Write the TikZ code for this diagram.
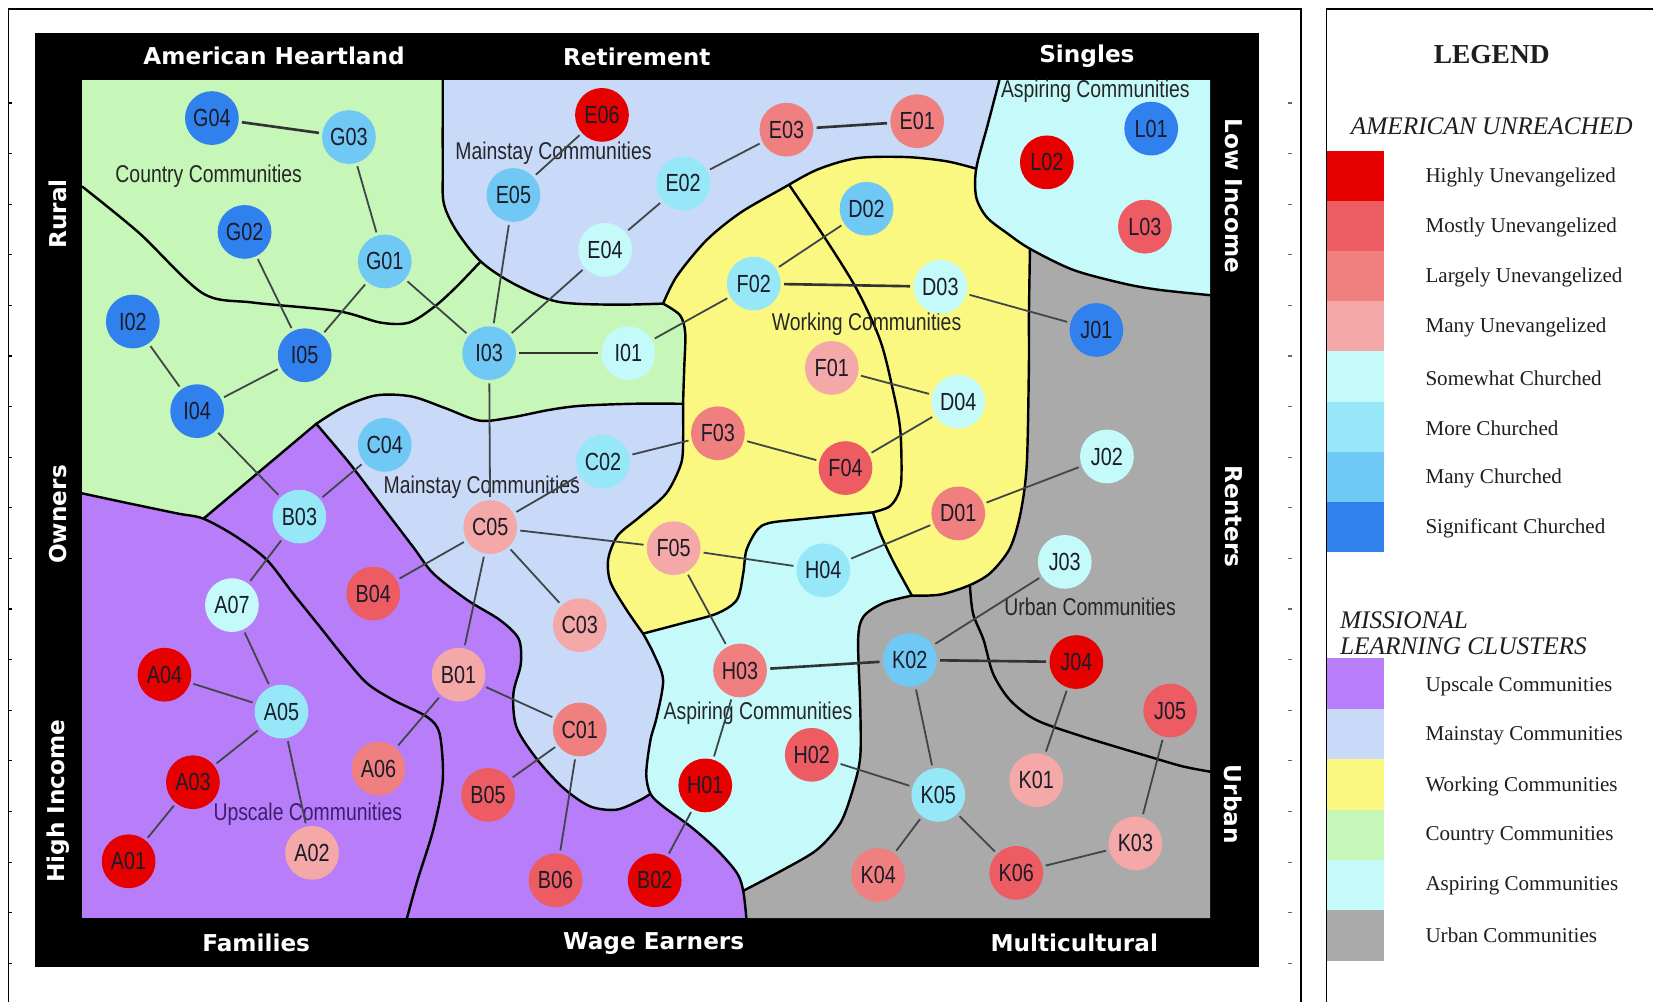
\documentclass[tikz,border=0pt]{standalone}
\usepackage{fontspec}
\setmainfont{Liberation Serif}
\newfontfamily\condfont[FakeStretch=0.8]{Liberation Sans}
\newfontfamily\axisfont{DejaVu Sans}
\definecolor{hu}{RGB}{230,0,0}
\definecolor{mu}{RGB}{236,92,98}
\definecolor{lu}{RGB}{240,128,128}
\definecolor{mnu}{RGB}{244,168,168}
\definecolor{sc}{RGB}{196,250,250}
\definecolor{mc}{RGB}{150,232,248}
\definecolor{myc}{RGB}{112,200,245}
\definecolor{sig}{RGB}{48,128,238}
\definecolor{cUp}{RGB}{184,125,248}
\definecolor{cMain}{RGB}{200,218,248}
\definecolor{cWork}{RGB}{250,248,128}
\definecolor{cCountry}{RGB}{198,246,184}
\definecolor{cAsp}{RGB}{198,250,250}
\definecolor{cUrb}{RGB}{170,170,170}
\definecolor{edgecol}{RGB}{62,70,72}
\definecolor{nodetext}{RGB}{28,28,40}
\definecolor{legtext}{RGB}{30,30,30}
\begin{document}
\begin{tikzpicture}[x=1pt,y=-1pt,
  nd/.style={circle, minimum size=51pt, inner sep=0pt, text=nodetext, font=\condfont\fontsize{23.5}{23.5}\selectfont},
  edge/.style={draw=edgecol, line width=1.7pt, shorten >=3pt, shorten <=3pt},
  thickedge/.style={draw=black!80, line width=2.5pt, shorten >=3pt, shorten <=3pt},
  bnd/.style={draw=black, line width=2.3pt, line join=round, line cap=round},
  axis/.style={text=white, inner sep=0pt, font=\axisfont\bfseries\fontsize{22}{22}\selectfont},
  rlab/.style={inner sep=0pt, text=black!85, font=\condfont\fontsize{23}{23}\selectfont},
  legtxt/.style={anchor=west, inner sep=0pt, text=legtext, font=\fontsize{20}{20}\selectfont},
  leghead/.style={inner sep=0pt, text=legtext, font=\itshape\fontsize{24}{26}\selectfont}]
\useasboundingbox (0,0) rectangle (1568,950);
\fill[white] (0,0) rectangle (1568,950);
% outer frames
\draw[line width=1.3pt] (8,950) -- (8,8.5) -- (1234,8.5) -- (1234,950);
\draw[line width=1.3pt] (1258,950) -- (1258,8.5) -- (1568,8.5);
\foreach \k in {0,...,17} {
  \draw[line width=1pt] (8,{97.7+48*\k}) -- (11.5,{97.7+48*\k});
  \draw[line width=1pt, black!60] (1222,{97.7+48*\k}) -- (1226,{97.7+48*\k});
}
% black panel
\fill[black] (33,31) rectangle (1194,917);
% base purple
\fill[cUp] (78,76) rectangle (1148,871);
% green
\fill[cCountry] (78,76) -- (420,76)
  -- plot[smooth] coordinates {(420,76) (420,160) (421,193) (433,219) (456,248) (487,269) (528,286) (580,289) (629,288)}
  -- plot[smooth] coordinates {(629,288) (645,299) (650,316) (649,350) (648,383)}
  -- plot[smooth] coordinates {(648,383) (600,383) (550,385) (520,389) (485,396) (455,399) (422,387) (390,376) (357,375) (326,386) (300,402)}
  -- (193,492)
  -- plot[smooth] coordinates {(193,492) (168,487) (120,477) (78,468)} -- cycle;
% mainstay top
\fill[cMain] (420,76) -- (948,76)
  -- plot[smooth] coordinates {(948,76) (937,118) (926,160)}
  -- plot[smooth] coordinates {(926,160) (898,153) (860,149) (813,150) (775,161) (740,180) (702,202) (670,228) (642,262) (629,288)}
  -- plot[smooth] coordinates {(629,288) (580,289) (528,286) (487,269) (456,248) (433,219) (421,193) (420,160) (420,76)} -- cycle;
% aspiring top
\fill[cAsp] (948,76) -- (1148,76) -- (1148,280)
  -- plot[smooth] coordinates {(1148,280) (1100,275) (1066,269) (1018,256) (977,236) (955,221) (936,206) (926,187) (926,160) (937,118) (948,76)} -- cycle;
% working
\fill[cWork] plot[smooth] coordinates {(629,288) (642,262) (670,228) (702,202) (740,180) (775,161) (813,150) (860,149) (898,153) (926,160)}
  -- plot[smooth] coordinates {(926,160) (926,187) (936,206) (955,221) (977,236)}
  -- plot[smooth] coordinates {(977,236) (976,300) (976,345) (974,440) (968,487) (958,520) (940,543) (920,555) (892,564) (865,565)}
  -- plot[smooth] coordinates {(865,565) (847,532) (835,506) (828,486)}
  -- plot[smooth] coordinates {(828,486) (765,492) (730,496) (718,503) (708,522) (705,544) (699,569) (680,582) (648,591) (610,601)}
  -- plot[smooth] coordinates {(610,601) (594,578) (579,552) (577,530) (586,508) (606,491) (632,468) (646,440) (648,417) (648,383) (649,350) (650,316) (645,299) (629,288)} -- cycle;
% urban
\fill[cUrb] plot[smooth] coordinates {(977,236) (1018,256) (1066,269) (1100,275) (1148,280)}
  -- (1148,871) -- (708,871) -- (705,845)
  -- plot[smooth] coordinates {(705,845) (743,825) (775,806) (797,781) (809,749) (816,718) (816,670) (814,607) (819,585) (838,572) (865,565)}
  -- plot[smooth] coordinates {(865,565) (892,564) (920,555) (940,543) (958,520) (968,487) (974,440) (976,345) (976,300) (977,236)} -- cycle;
% aspiring lower
\fill[cAsp] plot[smooth] coordinates {(610,601) (648,591) (680,582) (699,569) (705,544) (708,522) (718,503) (730,496) (765,492) (828,486)}
  -- plot[smooth] coordinates {(828,486) (835,506) (847,532) (865,565)}
  -- plot[smooth] coordinates {(865,565) (838,572) (819,585) (814,607) (816,670) (816,718) (809,749) (797,781) (775,806) (743,825) (705,845)}
  -- plot[smooth] coordinates {(705,845) (699,828) (680,806) (655,784) (629,765) (617,753) (613,734) (617,702) (623,680) (629,645) (620,620) (610,601)} -- cycle;
% mainstay lower
\fill[cMain] plot[smooth] coordinates {(300,402) (326,386) (357,375) (390,376) (422,387) (455,399) (485,396) (520,389) (550,385) (600,383) (648,383)}
  -- plot[smooth] coordinates {(648,383) (648,417) (646,440) (632,468) (606,491) (586,508) (577,530) (579,552) (594,578) (610,601)}
  -- plot[smooth] coordinates {(610,601) (620,620) (629,645) (623,680) (617,702) (613,734) (617,753)}
  -- plot[smooth] coordinates {(617,753) (607,759) (585,768) (560,765) (535,748) (510,721) (490,690) (487,658) (494,630) (492,606) (474,588) (443,569) (411,544) (392,519) (360,477) (332,440) (300,402)} -- cycle;
% boundary lines
\draw[bnd] plot[smooth] coordinates {(420,76) (420,160) (421,193) (433,219) (456,248) (487,269) (528,286) (580,289) (629,288)};
\draw[bnd] plot[smooth] coordinates {(78,177) (132,221) (192,278) (240,287) (320,295) (361,306) (388,306) (412,291) (433,272) (456,248)};
\draw[bnd] plot[smooth] coordinates {(629,288) (642,262) (670,228) (702,202) (740,180) (775,161) (813,150) (860,149) (898,153) (926,160)};
\draw[bnd] plot[smooth] coordinates {(948,76) (937,118) (926,160) (926,187) (936,206) (955,221) (977,236) (1018,256) (1066,269) (1100,275) (1148,280)};
\draw[bnd] plot[smooth] coordinates {(977,236) (976,300) (976,345) (974,440) (968,487) (958,520) (940,543) (920,555) (892,564) (865,565)};
\draw[bnd] plot[smooth] coordinates {(629,288) (645,299) (650,316) (649,350) (648,383) (648,417) (646,440) (632,468) (606,491) (586,508) (577,530) (579,552) (594,578) (610,601)};
\draw[bnd] plot[smooth] coordinates {(300,402) (326,386) (357,375) (390,376) (422,387) (455,399) (485,396) (520,389) (550,385) (600,383) (648,383)};
\draw[bnd] (300,402) -- (193,492);
\draw[bnd] plot[smooth] coordinates {(78,468) (120,477) (168,487) (193,492) (224,509) (253,531) (278,563) (303,594) (326,623) (348,648) (373,664) (405,680) (417,696) (420,740) (411,787) (396,835) (386,871)};
\draw[bnd] plot[smooth] coordinates {(300,402) (332,440) (360,477) (392,519) (411,544) (443,569) (474,588) (492,606) (494,630) (487,658) (490,690) (510,721) (535,748) (560,765) (585,768) (607,759) (617,753)};
\draw[bnd] plot[smooth] coordinates {(610,601) (648,591) (680,582) (699,569) (705,544) (708,522) (718,503) (730,496) (765,492) (828,486)};
\draw[bnd] plot[smooth] coordinates {(749,176) (784,228) (813,275) (835,323) (847,370) (854,408) (855,455) (851,471) (843,481) (828,486)};
\draw[bnd] plot[smooth] coordinates {(828,486) (835,506) (847,532) (865,565)};
\draw[bnd] plot[smooth] coordinates {(610,601) (620,620) (629,645) (623,680) (617,702) (613,734) (617,753) (629,765) (655,784) (680,806) (699,828) (705,845) (708,871)};
\draw[bnd] plot[smooth] coordinates {(865,565) (838,572) (819,585) (814,607) (816,670) (816,718) (809,749) (797,781) (775,806) (743,825) (705,845)};
\draw[bnd] plot[smooth] coordinates {(920,555) (923,582) (933,607) (942,639) (958,664) (983,683) (1028,699) (1091,718) (1122,727) (1148,732)};
% axis labels
\node[axis] (tAH) at (260,53) {American Heartland};
\node[axis] (tRe) at (604,54) {Retirement};
\node[axis] (tSi) at (1031,53) {Singles};
\node[axis] (bFa) at (243,894) {Families};
\node[axis] (bWE) at (620,895) {Wage Earners};
\node[axis] (bMu) at (1019,894) {Multicultural};
\node[axis, rotate=90] (lRu) at (55,203) {Rural};
\node[axis, rotate=90] (lOw) at (55,488) {Owners};
\node[axis, rotate=90] (lHI) at (55,760) {High Income};
\node[axis, rotate=-90] (rLI) at (1170,186) {Low Income};
\node[axis, rotate=-90] (rRe) at (1170,490) {Renters};
\node[axis, rotate=-90] (rUr) at (1170,763) {Urban};
% region labels
\node[rlab] (rCountry) at (198,167) {Country Communities};
\node[rlab] (rMain1) at (525,145) {Mainstay Communities};
\node[rlab] (rAsp1) at (1039,87) {Aspiring Communities};
\node[rlab] (rWork) at (822,308) {Working Communities};
\node[rlab] (rMain2) at (457,462) {Mainstay Communities};
\node[rlab] (rUrb) at (1034,576) {Urban Communities};
\node[rlab] (rAsp2) at (719,677) {Aspiring Communities};
\node[rlab, text={rgb,255:red,60;green,30;blue,110}] (rUp) at (292,772) {Upscale Communities};
% nodes
\node[nd, fill=sig] (G04) at (201,112) {G04};
\node[nd, fill=myc] (G03) at (331,130) {G03};
\node[nd, fill=sig] (G02) at (232,220) {G02};
\node[nd, fill=myc] (G01) at (365,248) {G01};
\node[nd, fill=sig] (I02) at (126,305) {I02};
\node[nd, fill=sig] (I05) at (289,337) {I05};
\node[nd, fill=sig] (I04) at (187,390) {I04};
\node[nd, fill=myc] (I03) at (464,335) {I03};
\node[nd, fill=sc] (I01) at (596,335) {I01};
\node[nd, fill=hu] (E06) at (571,109) {E06};
\node[nd, fill=myc] (E05) at (487,185) {E05};
\node[nd, fill=sc] (E04) at (574,237) {E04};
\node[nd, fill=mc] (E02) at (648,174) {E02};
\node[nd, fill=lu] (E03) at (746,123) {E03};
\node[nd, fill=lu] (E01) at (870,115) {E01};
\node[nd, fill=sig] (L01) at (1092,122) {L01};
\node[nd, fill=hu] (L02) at (993,154) {L02};
\node[nd, fill=mu] (L03) at (1086,215) {L03};
\node[nd, fill=myc] (D02) at (822,198) {D02};
\node[nd, fill=mc] (F02) at (715,269) {F02};
\node[nd, fill=sc] (D03) at (892,272) {D03};
\node[nd, fill=sig] (J01) at (1040,313) {J01};
\node[nd, fill=mnu] (F01) at (789,349) {F01};
\node[nd, fill=sc] (D04) at (909,381) {D04};
\node[nd, fill=lu] (F03) at (681,411) {F03};
\node[nd, fill=mu] (F04) at (802,444) {F04};
\node[nd, fill=myc] (C04) at (365,422) {C04};
\node[nd, fill=mc] (C02) at (572,438) {C02};
\node[nd, fill=sc] (J02) at (1050,433) {J02};
\node[nd, fill=mc] (B03) at (284,490) {B03};
\node[nd, fill=mnu] (C05) at (465,500) {C05};
\node[nd, fill=mnu] (F05) at (639,520) {F05};
\node[nd, fill=mc] (H04) at (781,541) {H04};
\node[nd, fill=lu] (D01) at (909,487) {D01};
\node[nd, fill=sc] (J03) at (1010,533) {J03};
\node[nd, fill=sc] (A07) at (220,574) {A07};
\node[nd, fill=mu] (B04) at (354,563) {B04};
\node[nd, fill=mnu] (C03) at (550,593) {C03};
\node[nd, fill=hu] (A04) at (156,640) {A04};
\node[nd, fill=mc] (A05) at (267,675) {A05};
\node[nd, fill=mnu] (B01) at (435,640) {B01};
\node[nd, fill=lu] (H03) at (702,636) {H03};
\node[nd, fill=myc] (K02) at (863,626) {K02};
\node[nd, fill=hu] (J04) at (1021,628) {J04};
\node[nd, fill=mu] (J05) at (1110,674) {J05};
\node[nd, fill=lu] (A06) at (359,729) {A06};
\node[nd, fill=hu] (A03) at (183,742) {A03};
\node[nd, fill=lu] (C01) at (550,692) {C01};
\node[nd, fill=mu] (H02) at (770,716) {H02};
\node[nd, fill=hu] (H01) at (669,745) {H01};
\node[nd, fill=mc] (K05) at (890,754) {K05};
\node[nd, fill=mnu] (K01) at (983,740) {K01};
\node[nd, fill=mu] (B05) at (463,754) {B05};
\node[nd, fill=hu] (A01) at (122,817) {A01};
\node[nd, fill=mnu] (A02) at (296,809) {A02};
\node[nd, fill=mu] (B06) at (527,835) {B06};
\node[nd, fill=hu] (B02) at (621,835) {B02};
\node[nd, fill=lu] (K04) at (833,830) {K04};
\node[nd, fill=mu] (K06) at (964,828) {K06};
\node[nd, fill=mnu] (K03) at (1077,800) {K03};
% connectors
\foreach \a/\b in {G03/G01, G02/I05, G01/I05, G01/I03, I02/I04, I04/I05, I04/B03,
  I03/E05, I03/E04, I03/C05, E05/E06, E04/E02, E02/E03,
  I01/F02, F02/D02, D03/J01, F01/D04, D04/F04, F03/F04, C02/F03,
  C05/C02, C05/F05, C05/B04, C05/C03, C05/B01, B03/C04, B03/A07, A07/A05,
  A04/A05, A05/A03, A05/A02, A03/A01, B01/A06, B01/C01, C01/B05, C01/B06,
  F05/H04, F05/H03, H04/D01, D01/J02, H03/H01, H01/B02, K02/J03,
  K02/K05, H02/K05, K05/K04, K05/K06, J04/K01, K06/K03, K03/J05}
  \draw[edge] (\a) -- (\b);
\foreach \a/\b in {G04/G03, I03/I01, E03/E01, F02/D03, H03/K02, K02/J04}
  \draw[thickedge] (\a) -- (\b);
% legend
\node[inner sep=0pt, text=legtext, font=\bfseries\fontsize{26}{26}\selectfont] (legT) at (1415,52) {LEGEND};
\node[leghead] (legA) at (1415,120) {AMERICAN UNREACHED};
\foreach \c/\t [count=\i from 0] in {hu/Highly Unevangelized, mu/Mostly Unevangelized, lu/Largely Unevangelized, mnu/Many Unevangelized, sc/Somewhat Churched, mc/More Churched, myc/Many Churched, sig/Significant Churched} {
  \fill[\c] (1259,{143+47.6*\i}) rectangle (1313,{143+47.6*(\i+1)});
  \node[legtxt] (la\i) at (1352,{168+47.6*\i}) {\t};
}
\node[leghead, anchor=west] (legM1) at (1271,588) {MISSIONAL};
\node[leghead, anchor=west] (legM2) at (1271,613) {LEARNING CLUSTERS};
\foreach \c/\t [count=\i from 0] in {cUp/Upscale Communities, cMain/Mainstay Communities, cWork/Working Communities, cCountry/Country Communities, cAsp/Aspiring Communities, cUrb/Urban Communities} {
  \fill[\c] (1259,{624.5+47.8*\i}) rectangle (1313,{624.5+47.8*(\i+1)});
  \node[legtxt] (lm\i) at (1352,{651+47.3*\i}) {\t};
}
\end{tikzpicture}
\end{document}
